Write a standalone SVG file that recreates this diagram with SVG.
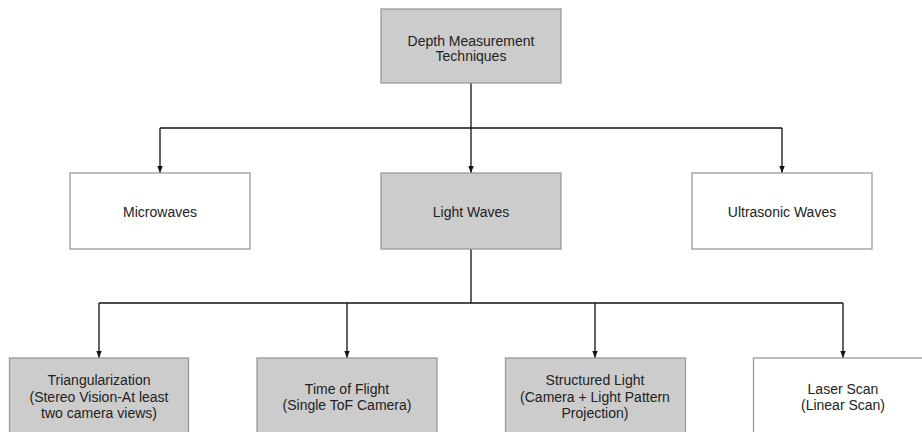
<svg xmlns="http://www.w3.org/2000/svg" width="922" height="432" viewBox="0 0 922 432">
  <style>
    .box { stroke: #9a9a9a; stroke-width: 1.3; }
    .grey { fill: #cccccc; }
    .white { fill: #ffffff; }
    .label { font-family: "Liberation Sans", Arial, sans-serif; font-size: 14px; fill: #222222; text-anchor: middle; }
    .wire { fill: none; stroke: #111111; stroke-width: 1.3; }
  </style>
  <defs>
    <marker id="arrow" viewBox="0 0 7 6" refX="7" refY="3" markerWidth="7" markerHeight="6" markerUnits="userSpaceOnUse" orient="auto">
      <path d="M0,0.3 L7,3 L0,5.7 Z" fill="#111111"/>
    </marker>
  </defs>
  <rect width="922" height="432" fill="#ffffff"/>

  <g id="connectors">
    <path class="wire" d="M471,83 V128"/>
    <path class="wire" d="M160,128 H782"/>
    <path class="wire" d="M160,128 V173" marker-end="url(#arrow)"/>
    <path class="wire" d="M471,128 V173" marker-end="url(#arrow)"/>
    <path class="wire" d="M782,128 V173" marker-end="url(#arrow)"/>
    <path class="wire" d="M471,249 V303"/>
    <path class="wire" d="M99,303 H843"/>
    <path class="wire" d="M99,303 V358" marker-end="url(#arrow)"/>
    <path class="wire" d="M347,303 V358" marker-end="url(#arrow)"/>
    <path class="wire" d="M595,303 V358" marker-end="url(#arrow)"/>
    <path class="wire" d="M843,303 V358" marker-end="url(#arrow)"/>
  </g>

  <g id="depth-measurement">
    <rect class="box grey" x="381" y="9" width="180" height="74"/>
    <text class="label" x="471" y="45.5">Depth Measurement</text>
    <text class="label" x="471" y="61">Techniques</text>
  </g>

  <g id="microwaves">
    <rect class="box white" x="70" y="173" width="180" height="76"/>
    <text class="label" x="160" y="216.5">Microwaves</text>
  </g>

  <g id="light-waves">
    <rect class="box grey" x="381" y="173" width="180" height="76"/>
    <text class="label" x="471" y="216.5">Light Waves</text>
  </g>

  <g id="ultrasonic-waves">
    <rect class="box white" x="692" y="173" width="180" height="76"/>
    <text class="label" x="782" y="216.5">Ultrasonic Waves</text>
  </g>

  <g id="triangularization">
    <rect class="box grey" x="9.5" y="358" width="179" height="80"/>
    <text class="label" x="99" y="385">Triangularization</text>
    <text class="label" x="99" y="401.5">(Stereo Vision-At least</text>
    <text class="label" x="99" y="418">two camera views)</text>
  </g>

  <g id="time-of-flight">
    <rect class="box grey" x="257" y="358" width="180" height="80"/>
    <text class="label" x="347" y="393.5">Time of Flight</text>
    <text class="label" x="347" y="410">(Single ToF Camera)</text>
  </g>

  <g id="structured-light">
    <rect class="box grey" x="505.5" y="358" width="180" height="80"/>
    <text class="label" x="595" y="385">Structured Light</text>
    <text class="label" x="595" y="401.5">(Camera + Light Pattern</text>
    <text class="label" x="595" y="418">Projection)</text>
  </g>

  <g id="laser-scan">
    <rect class="box white" x="753.5" y="358" width="180" height="80"/>
    <text class="label" x="843" y="393.5">Laser Scan</text>
    <text class="label" x="843" y="410">(Linear Scan)</text>
  </g>
</svg>
